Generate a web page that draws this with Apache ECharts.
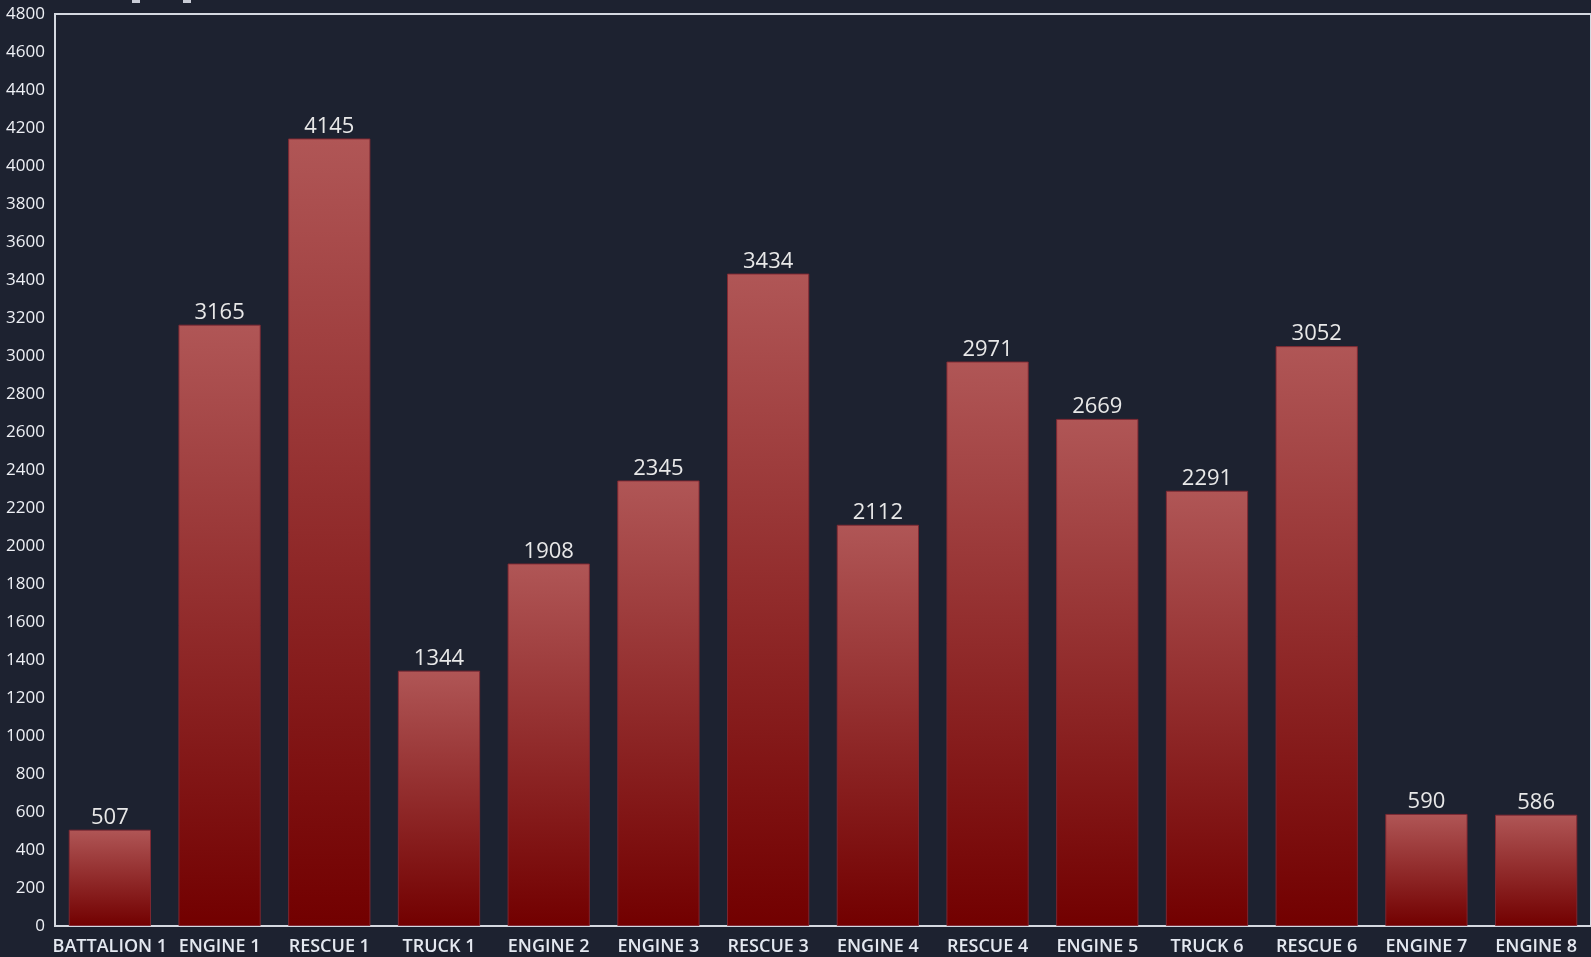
<!DOCTYPE html>
<html>
<head>
<meta charset="utf-8">
<script src="https://cdn.jsdelivr.net/npm/echarts@6/dist/echarts.min.js"></script>
<style>
html,body{margin:0;padding:0;background:#1d2230;}
#chart{width:1591px;height:957px;}
</style>
</head>
<body>
<div id="chart"></div>
<script>
const categories = ["BATTALION 1","ENGINE 1","RESCUE 1","TRUCK 1","ENGINE 2","ENGINE 3","RESCUE 3","ENGINE 4","RESCUE 4","ENGINE 5","TRUCK 6","RESCUE 6","ENGINE 7","ENGINE 8"];
const values = [507,3165,4145,1344,1908,2345,3434,2112,2971,2669,2291,3052,590,586];
const yMin = 0, yMax = 4800, yStep = 200;

const chart = echarts.init(document.getElementById('chart'));
chart.setOption({
  backgroundColor: '#1d2230',
  animation: false,
  textStyle: { fontFamily: 'Open Sans' },
  graphic: [
    { type: 'rect', shape: { x: 132, y: 0, width: 8, height: 3 }, style: { fill: '#c9ccd6' } },
    { type: 'rect', shape: { x: 183, y: 0, width: 8, height: 3 }, style: { fill: '#c9ccd6' } }
  ],
  grid: {
    left: 55, top: 14, right: -2, bottom: 31,
    show: true, borderColor: '#d4d8e0', borderWidth: 2
  },
  xAxis: {
    type: 'category',
    data: categories,
    axisLine: { show: true, lineStyle: { color: '#d4d8e0', width: 2 } },
    axisTick: { show: false },
    axisLabel: { color: '#e4e8f0', fontSize: 18, fontWeight: 600, margin: 12, interval: 0, fontFamily: 'Open Sans' }
  },
  yAxis: {
    type: 'value',
    min: yMin, max: yMax, interval: yStep,
    axisLine: { show: true, lineStyle: { color: '#d4d8e0', width: 2 } },
    axisTick: { show: false },
    splitLine: { show: false },
    axisLabel: { color: '#eef0f5', fontSize: 17, fontWeight: 'normal', margin: 10, fontFamily: 'Open Sans',
      formatter: v => String(v) }
  },
  series: [{
    type: 'bar',
    data: values,
    barCategoryGap: '25%',
    itemStyle: {
      color: new echarts.graphic.LinearGradient(0, 0, 0, 1, [
        { offset: 0, color: '#b05656' },
        { offset: 1, color: '#720000' }
      ]),
      borderColor: 'rgba(130,40,50,0.9)',
      borderWidth: 1
    },
    label: {
      show: true, position: 'top', distance: 1,
      color: '#e8e8e8', fontSize: 22, fontFamily: 'Open Sans'
    }
  }]
});
</script>
</body>
</html>
